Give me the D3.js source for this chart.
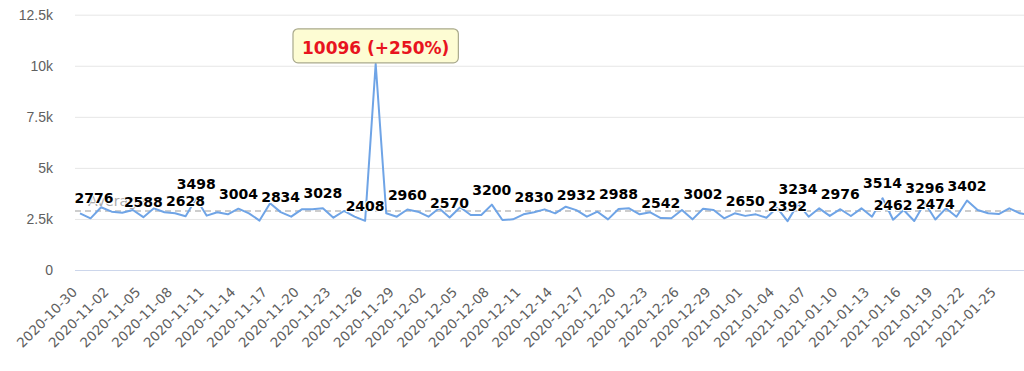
<!DOCTYPE html>
<html>
<head>
<meta charset="utf-8">
<script src="https://cdn.jsdelivr.net/npm/d3@7"></script>
<style>
  body { margin: 0; background: #fff; }
  svg { display: block; font-family: "DejaVu Sans", sans-serif; }
</style>
</head>
<body>
<svg id="chart" width="1024" height="371"></svg>
<script>
// daily counts, one per day starting at startDay
const startDay = "2020-10-30";
const visits = [
  2776, 2530, 3070, 2855, 2805, 2940, 2588, 3020, 2825, 2775,
  2628, 3498, 2660, 2825, 2725, 3004, 2775, 2420, 3265, 2834,
  2610, 2970, 2970, 3028, 2560, 2890, 2610, 2408, 10096, 2775,
  2610, 2960, 2855, 2610, 3020, 2570, 3070, 2690, 2690, 3200,
  2450, 2480, 2725, 2830, 2970, 2775, 3100, 2932, 2610, 2855,
  2480, 2988, 3020, 2725, 2825, 2542, 2530, 2940, 2480, 3002,
  2940, 2530, 2775, 2650, 2725, 2560, 3050, 2392, 3234, 2610,
  3020, 2650, 2976, 2645, 3020, 2610, 3514, 2462, 2940, 2400,
  3296, 2474, 3020, 2610, 3402, 2940, 2775, 2740, 3020, 2775,
  2700
];
// days that show a value label
const labelledDays = [
  "2020-10-30", "2020-11-05", "2020-11-09", "2020-11-10", "2020-11-14",
  "2020-11-18", "2020-11-22", "2020-11-26", "2020-11-30", "2020-12-04",
  "2020-12-08", "2020-12-12", "2020-12-16", "2020-12-20", "2020-12-24",
  "2020-12-28", "2021-01-01", "2021-01-05", "2021-01-06", "2021-01-10",
  "2021-01-14", "2021-01-15", "2021-01-18", "2021-01-19", "2021-01-22"
];
const peakDay = "2020-11-27";
const peakNote = "10096 (+250%)";
const average = 2884;
const averageLabel = "Average";
const yTicks = [0, 2500, 5000, 7500, 10000, 12500];
const tickEvery = 3;
const lastTickDay = "2021-01-25";

const parse = d3.utcParse("%Y-%m-%d");
const fmt = d3.utcFormat("%Y-%m-%d");
const start = parse(startDay);
const days = d3.utcDay.range(start, d3.utcDay.offset(start, visits.length));
const data = days.map((d, i) => ({date: d, value: visits[i]}));

const svg = d3.select("#chart");
const plotLeft = 75, plotRight = 1024, plotBottom = 270;

const x = d3.scaleUtc()
  .domain([start, days[days.length - 1]])
  .range([80, 80 + 10.56 * (days.length - 1)]);
const y = d3.scaleLinear().domain([0, 12500]).range([plotBottom, 14.7]);

// grid + y labels
const yAxis = d3.axisLeft(y)
  .tickValues(yTicks)
  .tickSize(-(plotRight - plotLeft))
  .tickPadding(22)
  .tickFormat(d => d === 0 ? "0" : d / 1000 + "k");
svg.append("g")
  .attr("transform", "translate(" + plotLeft + ",0)")
  .call(yAxis)
  .call(g => g.select(".domain").remove())
  .call(g => g.selectAll("line").attr("stroke", d => d === 0 ? "#ccd6eb" : "#e6e6e6"))
  .call(g => g.selectAll("text").attr("fill", "#606060").style("font-size", "14px"));

// x axis labels
const tickDates = days.filter((d, i) => i % tickEvery === 0 && d <= parse(lastTickDay));
svg.append("g").selectAll("text")
  .data(tickDates)
  .join("text")
  .attr("transform", d => "translate(" + (x(d) - 2) + ",293) rotate(-45)")
  .attr("text-anchor", "end")
  .attr("fill", "#606060")
  .style("font-size", "13.5px")
  .text(d => fmt(d));

const plot = svg.append("g");
plot.append("clipPath").attr("id", "clip")
  .append("rect").attr("x", plotLeft).attr("y", 0)
  .attr("width", plotRight - plotLeft).attr("height", plotBottom + 2);

// average line
plot.append("line")
  .attr("x1", plotLeft).attr("x2", plotRight)
  .attr("y1", y(average)).attr("y2", y(average))
  .attr("stroke", "#bdbdbd").attr("stroke-width", 1.5)
  .attr("stroke-dasharray", "6,4");
plot.append("text")
  .attr("x", 88).attr("y", y(average) - 5)
  .attr("fill", "#aaa")
  .style("font-size", "14px")
  .text(averageLabel);

const line = d3.line().x(d => x(d.date)).y(d => y(d.value));
plot.append("path")
  .datum(data)
  .attr("clip-path", "url(#clip)")
  .attr("fill", "none")
  .attr("stroke", "#6fa4e6")
  .attr("stroke-width", 2)
  .attr("stroke-linejoin", "round")
  .attr("d", line);

// value labels
const labelled = data.filter(d => labelledDays.includes(fmt(d.date)));
plot.selectAll(".lbl")
  .data(labelled)
  .join("text")
  .attr("class", "lbl")
  .attr("x", d => Math.max(x(d.date), plotLeft + 19))
  .attr("y", d => y(d.value) - 10)
  .attr("text-anchor", "middle")
  .attr("fill", "#000")
  .attr("stroke", "#fff")
  .attr("stroke-width", 2)
  .attr("paint-order", "stroke")
  .style("font-size", "14px")
  .style("font-weight", "bold")
  .text(d => d.value);

// peak tooltip
const peak = data.find(d => fmt(d.date) === peakDay);
const px = x(peak.date), py = y(peak.value);
const tip = svg.append("g");
const box = tip.append("rect");
const tipText = tip.append("text")
  .attr("x", px).attr("y", py - 10)
  .attr("text-anchor", "middle")
  .attr("fill", "#e8141e")
  .style("font-size", "17px")
  .style("font-weight", "bold")
  .text(peakNote);
const bb = tipText.node().getBBox();
box.attr("x", bb.x - 9).attr("y", py - 35)
  .attr("width", bb.width + 18).attr("height", 34)
  .attr("rx", 5)
  .attr("fill", "#fdfcd3")
  .attr("stroke", "#a9a98c")
  .attr("stroke-width", 1.2);
</script>
</body>
</html>
